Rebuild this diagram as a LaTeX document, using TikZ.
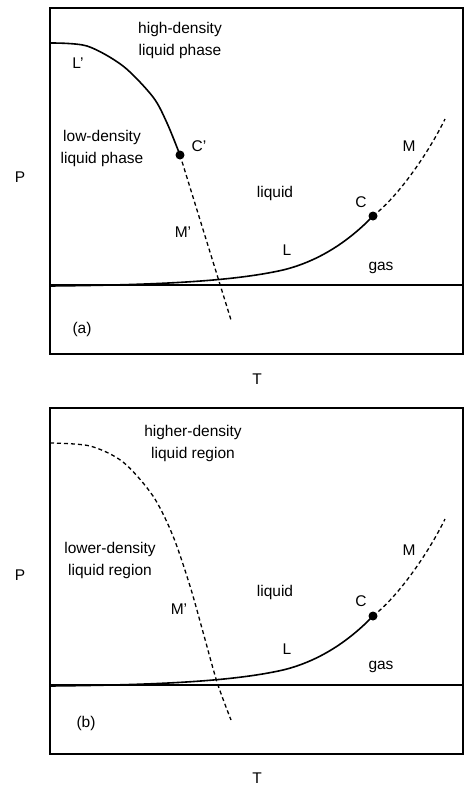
\documentclass[tikz,border=0pt]{standalone}
\usepackage{fontspec}
\setmainfont{Liberation Sans}

\begin{document}
\begin{tikzpicture}[x=1pt,y=-1pt,
  every node/.style={font=\fontsize{15.5}{22}\selectfont,align=center,inner sep=0pt},
  frame/.style={line width=1.1pt},
  curve/.style={line width=1.6pt},
  metastable/.style={line width=1.3pt,dash pattern=on 4pt off 3pt},
  critical/.style={circle,fill,inner sep=0pt,minimum size=9pt}]
\useasboundingbox (0,0) rectangle (474,796);
% panel (a)
\begin{scope}
\draw[frame] (50,8) rectangle (463,354);
\draw[frame] (50,285) -- (463,285);
\node[critical] (Ca) at (373,216) {};
\node[critical] (Cpa) at (180,155) {};
\coordinate (Mpa) at (231,320);
\coordinate (Ma) at (445,119);
\coordinate (La) at (50,286);
\draw[curve] plot[smooth] coordinates {(50,43) (87,46) (123,66) (153,97) (167,123) (180,155)};
\draw[metastable] (Cpa.center) -- (Mpa);
\draw[curve] (La) .. controls (150,285) and (230,282) .. (283,270) .. controls (320,261) and (350,240) .. (Ca.center);
\draw[metastable] (Ca.center) .. controls (400,195) and (430,150) .. (Ma);
\node (higha) at (180,40) {high-density\\liquid phase};
\node (lowa) at (102,148) {low-density\\liquid phase};
\node (Lplabela) at (78,63) {L'};
\node (Cplabela) at (199,146) {C'};
\node (Mplabela) at (183,232) {M'};
\node (liquida) at (275,193) {liquid};
\node (Clabela) at (361,202) {C};
\node (Llabela) at (287,250) {L};
\node (gasa) at (381,268) {gas};
\node (Mlabela) at (409,146) {M};
\node (taga) at (82,329) {(a)};
\node (Pa) at (20,177) {P};
\node (Ta) at (257,379) {T};
\end{scope}
% panel (b)
\begin{scope}[shift={(0,400)}]
\draw[frame] (50,8) rectangle (463,354);
\draw[frame] (50,285) -- (463,285);
\node[critical] (Cb) at (373,216) {};
\coordinate (Mb) at (445,119);
\coordinate (Lb) at (50,286);
\draw[metastable] plot[smooth] coordinates {(50,43) (90,46) (123,62) (153,96) (173,136) (190,186) (203,232) (217,282) (231,320)};
\draw[curve] (Lb) .. controls (150,285) and (230,282) .. (283,270) .. controls (320,261) and (350,240) .. (Cb.center);
\draw[metastable] (Cb.center) .. controls (400,195) and (430,150) .. (Mb);
\node (highb) at (193,43) {higher-density\\liquid region};
\node (lowb) at (110,160) {lower-density\\liquid region};
\node (Mplabelb) at (179,209) {M'};
\node (liquidb) at (275,192) {liquid};
\node (Clabelb) at (361,201) {C};
\node (Llabelb) at (287,249) {L};
\node (gasb) at (381,267) {gas};
\node (Mlabelb) at (409,150) {M};
\node (tagb) at (86,323) {(b)};
\node (Pb) at (20,175) {P};
\node (Tb) at (257,378) {T};
\end{scope}
\end{tikzpicture}
\end{document}
